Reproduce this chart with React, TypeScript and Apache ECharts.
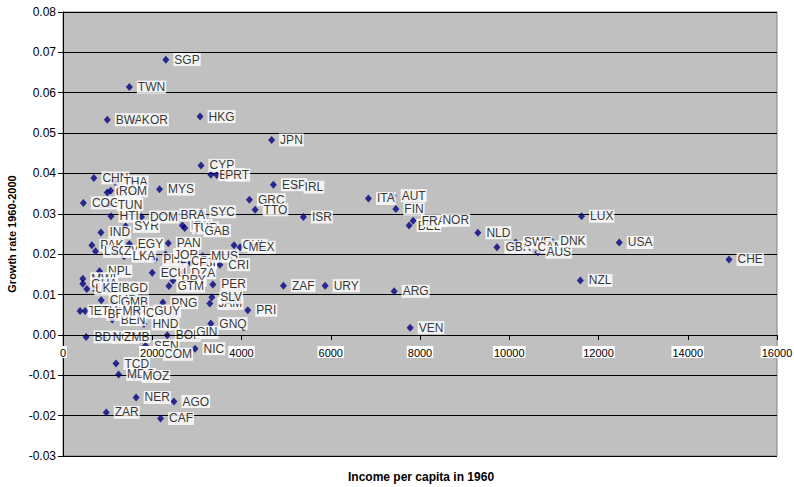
import React, { useEffect, useRef } from "react";
import * as echarts from "echarts";

// Country codes, in drawing order (later labels overlay earlier ones)
const countries: string[] = [
  "SGP", "TWN", "BWA", "KOR", "HKG", "JPN", "CYP", "BRB", "PRT", "CHN",
  "THA", "CPV", "ROM", "MYS", "ESP", "IRL", "COG", "TUN", "GRC", "ITA",
  "AUT", "SYC", "TTO", "FIN", "BRA", "HTI", "SYR", "DOM", "ISR", "LUX",
  "BEL", "FRA", "NOR", "IRN", "TUR", "GAB", "IND", "NLD", "PAK", "LSO",
  "ZWE", "EGY", "LKA", "PAN", "PHL", "JOR", "COL", "FJI", "MUS", "CRI",
  "CHL", "MEX", "GBR", "SWE", "CAN", "AUS", "DNK", "USA", "CHE", "NPL",
  "ECU", "DZA", "PRY", "GTM", "NZL", "MWI", "GHA", "UGA", "KEN", "BGD",
  "PER", "ZAF", "URY", "ARG", "JAM", "SLV", "CMR", "GMB", "PNG", "PRI",
  "TZA", "ETH", "BFA", "BEN", "MRT", "CIV", "GUY", "HND", "GNQ", "VEN",
  "BOL", "GIN", "BDI", "NGA", "ZMB", "SEN", "COM", "NIC", "TCD", "MDG",
  "MOZ", "NER", "AGO", "ZAR", "CAF",
];

// Income per capita in 1960
const income1960: number[] = [
  2305, 1487, 992, 1577, 3072, 4675, 3092, 3313, 3448, 692,
  1165, 992, 1066, 2163, 4715, 5224, 457, 1037, 4177, 6845,
  7399, 3110, 4305, 7459, 2441, 1075, 1404, 1758, 5387, 11620,
  7757, 7847, 8311, 2675, 2727, 2981, 850, 9297, 647, 728,
  1179, 1487, 1368, 2359, 2057, 2299, 2682, 2862, 3132, 3515,
  3833, 3969, 9723, 10141, 10440, 10642, 10952, 12465, 14925, 818,
  1999, 2682, 2463, 2373, 11592, 444, 444, 534, 692, 1127,
  3358, 4939, 5874, 7421, 3290, 3335, 856, 1104, 2238, 4141,
  383, 496, 805, 1104, 1143, 1668, 1855, 1814, 3313, 7780,
  2337, 2794, 518, 924, 1179, 1848, 2073, 2959, 1188, 1246,
  1593, 1638, 2486, 969, 2186,
];

// Growth rate 1960-2000
const growth: number[] = [
  0.0682, 0.0614, 0.0533, 0.0533, 0.0541, 0.0483, 0.042, 0.0397, 0.0396, 0.0389,
  0.0379, 0.0353, 0.0357, 0.0361, 0.0372, 0.0366, 0.0327, 0.0323, 0.0335, 0.0338,
  0.0345, 0.0305, 0.031, 0.0312, 0.0297, 0.0294, 0.0269, 0.0292, 0.0292, 0.0294,
  0.0271, 0.0283, 0.0284, 0.0271, 0.0265, 0.0258, 0.0254, 0.0253, 0.0222, 0.0207,
  0.0207, 0.0225, 0.0195, 0.0227, 0.0187, 0.0199, 0.0182, 0.0178, 0.0195, 0.0174,
  0.0222, 0.0217, 0.0217, 0.0229, 0.0218, 0.0205, 0.0232, 0.0229, 0.0187, 0.0158,
  0.0154, 0.0154, 0.0135, 0.0121, 0.0135, 0.0139, 0.0127, 0.0114, 0.0116, 0.0116,
  0.0125, 0.0122, 0.0122, 0.0108, 0.0078, 0.0093, 0.0086, 0.0081, 0.008, 0.0061,
  0.0059, 0.0059, 0.0051, 0.0038, 0.0059, 0.0055, 0.0059, 0.0027, 0.0028, 0.0018,
  -0.0001, 0.0006, -0.0005, -0.0006, -0.0004, -0.0027, -0.0048, -0.0034, -0.0071, -0.0098,
  -0.0103, -0.0155, -0.0165, -0.0192, -0.0207,
];

const xTicks: number[] = [0, 2000, 4000, 6000, 8000, 10000, 12000, 14000, 16000];
const yTicks: number[] = [-0.03, -0.02, -0.01, 0, 0.01, 0.02, 0.03, 0.04, 0.05, 0.06, 0.07, 0.08];
const xTitle = "Income per capita in 1960";
const yTitle = "Growth rate 1960-2000";

const FONT = "'Liberation Sans', Arial, sans-serif";

const GRID_TOP = 12;
const GRID_BOTTOM = 31;
const CHART_H = 487;

export default function App() {
  const ref = useRef<HTMLDivElement>(null);

  useEffect(() => {
    if (!ref.current) return;
    const chart = echarts.init(ref.current, undefined, { renderer: "svg" });
    const data = countries.map((c, i) => ({ name: c, value: [income1960[i], growth[i]] }));
    const yMin = yTicks[0];
    const yMax = yTicks[yTicks.length - 1];
    const plotH = CHART_H - GRID_TOP - GRID_BOTTOM;
    // the horizontal axis crosses the vertical one at zero
    const zeroOffset = -Math.round((plotH * (0 - yMin)) / (yMax - yMin));
    chart.setOption({
      animation: false,
      backgroundColor: "#ffffff",
      textStyle: { fontFamily: FONT },
      grid: {
        left: 63,
        right: 17,
        top: GRID_TOP,
        bottom: GRID_BOTTOM,
        containLabel: false,
        outerBoundsMode: "none",
        show: true,
        backgroundColor: "#c0c0c0",
        borderColor: "#808080",
        borderWidth: 1,
      },
      graphic: [
        {
          type: "text",
          left: 348,
          top: 471,
          silent: true,
          style: {
            text: xTitle,
            font: `bold 12px ${FONT}`,
            fill: "#000",
          },
        },
      ],
      xAxis: {
        type: "value",
        position: "bottom",
        offset: zeroOffset,
        min: xTicks[0],
        max: xTicks[xTicks.length - 1],
        interval: xTicks[1] - xTicks[0],
        z: 5,
        axisLine: { show: true, onZero: false, lineStyle: { color: "#000", width: 1 } },
        axisTick: { show: true, length: 5, lineStyle: { color: "#000" } },
        axisLabel: {
          margin: 11,
          fontSize: 11,
          color: "#000",
          fontFamily: FONT,
          backgroundColor: "#fff",
          padding: [1, 1, 0, 1],
          formatter: (v: number) => String(v),
        },
        splitLine: { show: false },
      },
      yAxis: {
        type: "value",
        min: yMin,
        max: yMax,
        interval: 0.01,
        axisLine: { show: true, onZero: false, lineStyle: { color: "#000", width: 1 } },
        axisTick: { show: true, length: 5, lineStyle: { color: "#000" } },
        axisLabel: {
          margin: 7,
          fontSize: 12,
          color: "#000",
          fontFamily: FONT,
          formatter: (v: number) => v.toFixed(2),
        },
        splitLine: { show: true, lineStyle: { color: "#000", width: 1 } },
        name: yTitle,
        nameLocation: "middle",
        nameGap: 41,
        nameRotate: 90,
        nameTextStyle: { fontWeight: "bold", fontSize: 11, color: "#000", fontFamily: FONT },
      },
      series: [
        {
          type: "scatter",
          data,
          symbol: "diamond",
          symbolSize: [7, 8],
          itemStyle: { color: "#000080" },
          z: 2,
          silent: true,
        },
        {
          type: "scatter",
          data,
          symbol: "diamond",
          symbolSize: [7, 8],
          itemStyle: { color: "rgba(0,0,0,0)" },
          z: 3,
          silent: true,
          label: {
            show: true,
            position: "right",
            distance: 4,
            formatter: "{b}",
            fontSize: 12,
            color: "#000",
            fontFamily: FONT,
            backgroundColor: "#fff",
            padding: [0, 1],
            lineHeight: 13,
          },
        },
      ],
    });
    return () => chart.dispose();
  }, []);

  return (
    <div
      ref={ref}
      style={{ position: "fixed", left: 0, top: 0, width: 794, height: 487, background: "#fff" }}
    />
  );
}
